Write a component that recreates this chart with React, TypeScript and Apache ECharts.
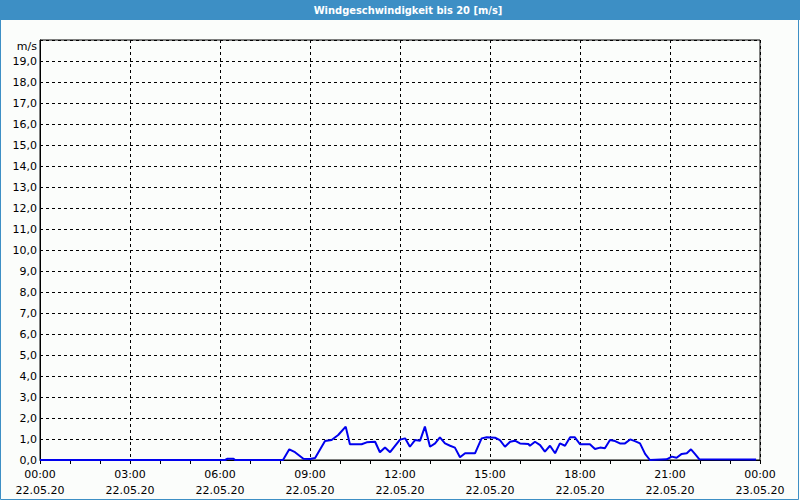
import React, { useEffect, useRef } from "react";
import * as echarts from "echarts";

const TITLE = "Windgeschwindigkeit bis 20 [m/s]";
const UNIT = "m/s";
// hours since 22.05.20 00:00
const hours = [
  0, 6.17, 6.25, 6.45, 6.5, 8.1, 8.31, 8.5, 8.78, 9.0, 9.17, 9.5, 9.72, 9.94, 10.19, 10.33, 10.72, 10.89,
  11.17, 11.33, 11.5, 11.67, 12.0, 12.17, 12.33, 12.5, 12.67, 12.83, 13.0, 13.17, 13.33, 13.5, 13.67,
  13.83, 14.0, 14.17, 14.5, 14.72, 14.89, 15.17, 15.33, 15.5, 15.67, 15.83, 16.0, 16.28, 16.33, 16.5,
  16.67, 16.83, 17.0, 17.17, 17.33, 17.5, 17.67, 17.83, 18.0, 18.33, 18.5, 18.67, 18.83, 19.0, 19.17,
  19.33, 19.5, 19.67, 19.83, 20.0, 20.17, 20.33, 20.89, 21.06, 21.22, 21.39, 21.56, 21.7, 21.83, 21.98,
  23.87,
];
const speeds = [
  0, 0, 0.06, 0.06, 0, 0, 0.51, 0.37, 0.06, 0.05, 0.1, 0.9, 0.95, 1.19, 1.59, 0.75, 0.75, 0.84,
  0.87, 0.37, 0.6, 0.37, 0.97, 1.03, 0.63, 0.95, 0.92, 1.59, 0.63, 0.79, 1.08, 0.79, 0.68,
  0.59, 0.13, 0.32, 0.32, 1.03, 1.08, 1.06, 0.95, 0.63, 0.87, 0.92, 0.79, 0.76, 0.68, 0.87,
  0.71, 0.4, 0.68, 0.32, 0.79, 0.68, 1.08, 1.08, 0.75, 0.75, 0.52, 0.59, 0.56, 0.95, 0.9,
  0.79, 0.79, 0.98, 0.9, 0.79, 0.29, 0, 0.03, 0.16, 0.11, 0.29, 0.32, 0.51, 0.29, 0.03,
  0.02,
];
const xTickHours = [0, 3, 6, 9, 12, 15, 18, 21, 24];
const xTickDates = ["22.05.20", "22.05.20", "22.05.20", "22.05.20", "22.05.20", "22.05.20", "22.05.20", "22.05.20", "23.05.20"];

const FONT = "Tahoma, 'DejaVu Sans', Verdana, sans-serif";
const TITLE_FONT = "'DejaVu Sans Condensed', 'DejaVu Sans', sans-serif";

export default function App() {
  const ref = useRef<HTMLDivElement>(null);
  useEffect(() => {
    if (!ref.current) return;
    const chart = echarts.init(ref.current, null, { renderer: "svg" });
    const data = hours.map((h, i) => [h, speeds[i]]);
    chart.setOption({
      animation: false,
      backgroundColor: "#fbfdfb",
      textStyle: { fontFamily: FONT },
      graphic: [
        { type: "rect", shape: { x: 0, y: 0, width: 800, height: 20 }, style: { fill: "#3d8fc5" }, silent: true, z: -1 },
        { type: "rect", shape: { x: 0.5, y: 0.5, width: 798, height: 499 }, style: { fill: "none", stroke: "#3d8fc5", lineWidth: 1 }, silent: true, z: -1 },
        { type: "text", x: 408, y: 10, style: { text: TITLE, fill: "#ffffff", font: `bold 11px ${TITLE_FONT}`, align: "center", verticalAlign: "middle" } },
        { type: "text", x: 37, y: 46, style: { text: UNIT, fill: "#000", font: `11px ${FONT}`, align: "right", verticalAlign: "middle" } },
      ],
      grid: { left: 40, right: 40, top: 40, bottom: 40, show: true, borderColor: "#000", borderWidth: 1, backgroundColor: "transparent" },
      xAxis: {
        type: "value",
        min: 0,
        max: 24,
        interval: 3,
        axisLine: { show: true, lineStyle: { color: "#000", width: 1 } },
        axisTick: { show: true, length: 4, lineStyle: { color: "#000" } },
        minorTick: { show: true, splitNumber: 3, length: 4, lineStyle: { color: "#000" } },
        splitLine: { show: true, lineStyle: { color: "#000", type: [3, 3], width: 1 } },
        axisLabel: {
          color: "#000",
          fontSize: 11,
          fontFamily: FONT,
          lineHeight: 16,
          margin: 6,
          formatter: (v: number) => {
            const i = xTickHours.indexOf(v);
            const hh = String(v % 24).padStart(2, "0");
            return `${hh}:00\n${i >= 0 ? xTickDates[i] : ""}`;
          },
        },
      },
      yAxis: {
        type: "value",
        min: 0,
        max: 20,
        interval: 1,
        axisLine: { show: true, lineStyle: { color: "#000", width: 1 } },
        axisTick: { show: false },
        splitLine: { show: true, lineStyle: { color: "#000", type: [3, 3], width: 1 } },
        axisLabel: {
          color: "#000",
          fontSize: 11,
          fontFamily: FONT,
          margin: 3,
          formatter: (v: number) => (v >= 20 ? "" : v.toFixed(1).replace(".", ",")),
        },
      },
      series: [
        {
          type: "line",
          data,
          showSymbol: false,
          symbol: "none",
          lineStyle: { color: "#0000ee", width: 2 },
          z: 5,
        },
      ],
    });
    return () => chart.dispose();
  }, []);
  return <div ref={ref} style={{ position: "absolute", left: 0, top: 0, width: 800, height: 500 }} />;
}
